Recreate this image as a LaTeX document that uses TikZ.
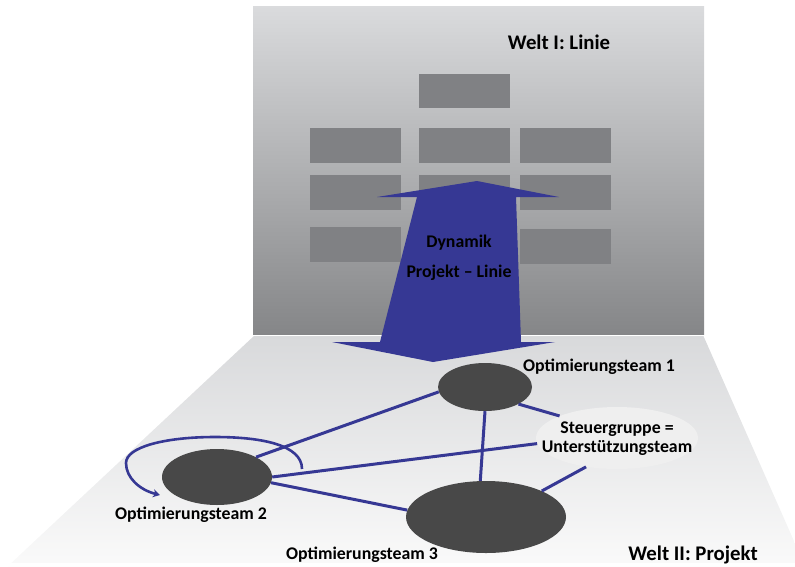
\documentclass[tikz,border=0pt]{standalone}
\usepackage{fontspec}
\setmainfont{Carlito}
\usetikzlibrary{shapes.geometric,arrows.meta}
\definecolor{panelTop}{HTML}{DADBDD}
\definecolor{panelBot}{HTML}{858688}
\definecolor{floorTop}{HTML}{D8D9DB}
\definecolor{floorBot}{HTML}{FAFAFA}
\definecolor{boxGray}{HTML}{808184}
\definecolor{arrowBlue}{HTML}{363894}
\definecolor{teamGray}{HTML}{484848}
\definecolor{steuerFill}{HTML}{EFEFEF}
\tikzset{
  linebox/.style={fill=boxGray,draw=none},
  team/.style={ellipse,fill=teamGray,draw=none,inner sep=0pt},
  lbl/.style={font=\bfseries\fontsize{17.8}{19}\selectfont,inner sep=0pt,text=black},
  biglbl/.style={font=\bfseries\fontsize{20.8}{22}\selectfont,inner sep=0pt,text=black},
  link/.style={draw=arrowBlue,line width=3pt},
}
\begin{document}
\begin{tikzpicture}[x=1pt,y=-1pt]
\useasboundingbox (0,0) rectangle (795,566);
% floor (Welt II)
\shade[top color=floorTop,bottom color=floorBot]
  (255,335) -- (703,335) -- (805,566) -- (8,566) -- cycle;
\fill[white] (0,563) rectangle (795,566);
% wall (Welt I)
\shade[top color=panelTop,bottom color=panelBot] (253,6) rectangle (704,334);
\draw[white,line width=1pt] (253,335) -- (704,335);
% line organisation boxes
\fill[linebox] (419,74) rectangle (510,108);
\fill[linebox] (310,128) rectangle (401,163);
\fill[linebox] (419,128) rectangle (510,163);
\fill[linebox] (520,128) rectangle (611,163);
\fill[linebox] (310,175) rectangle (401,210);
\fill[linebox] (419,175) rectangle (510,210);
\fill[linebox] (520,175) rectangle (611,210);
\fill[linebox] (310,227) rectangle (401,262);
\fill[linebox] (520,229) rectangle (611,264);
% double arrow
\fill[arrowBlue] (477,181) -- (559,197) -- (516,197) -- (521,342) -- (555,342)
  -- (433,362) -- (332,342) -- (380,342) -- (417,197) -- (377,197) -- cycle;
\node[lbl] (dyn) at (459,243) {Dynamik};
\node[lbl] (pl) at (459,273) {Projekt – Linie};
\node[biglbl] (w1) at (559,42) {Welt I: Linie};
% teams
\node[team,minimum width=94pt,minimum height=48pt] (ot1) at (485,387) {};
\node[team,minimum width=110pt,minimum height=56pt] (ot2) at (217,477) {};
\node[team,minimum width=160pt,minimum height=72pt] (ot3) at (486,517) {};
\node[ellipse,fill=steuerFill,inner sep=0pt,minimum width=162pt,minimum height=62pt] (sg) at (617,438) {};
% connectors
\draw[link] (ot1.186) -- (ot2.27);
\draw[link] (ot1.-90) -- (ot3.99);
\draw[link] (ot1.-27) -- (sg.159);
\draw[link] (ot2.0) -- (sg.184);
\draw[link] (ot2.-6) -- (ot3.175);
\draw[link] (ot3.25) -- (sg.223);
\coordinate (loopS) at (302,469);
\coordinate (loopE) at (160,495);
\draw[draw=arrowBlue,line width=2.6pt,-{Stealth[length=7pt,width=8pt]}]
  (loopS) .. controls (302,445) and (262,437) .. (215,437)
  .. controls (165,437) and (126,447) .. (126,463)
  .. controls (126,478) and (140,490) .. (loopE);
% labels
\node[lbl] (l1) at (599,367) {Optimierungsteam 1};
\node[lbl] (l2) at (191,515) {Optimierungsteam 2};
\node[lbl] (l3) at (362,555) {Optimierungsteam 3};
\node[lbl,align=center] (lsg) at (617,438.5) {Steuergruppe =\\Unterstützungsteam};
\node[biglbl] (w2) at (693,555) {Welt II: Projekt};
\end{tikzpicture}
\end{document}
